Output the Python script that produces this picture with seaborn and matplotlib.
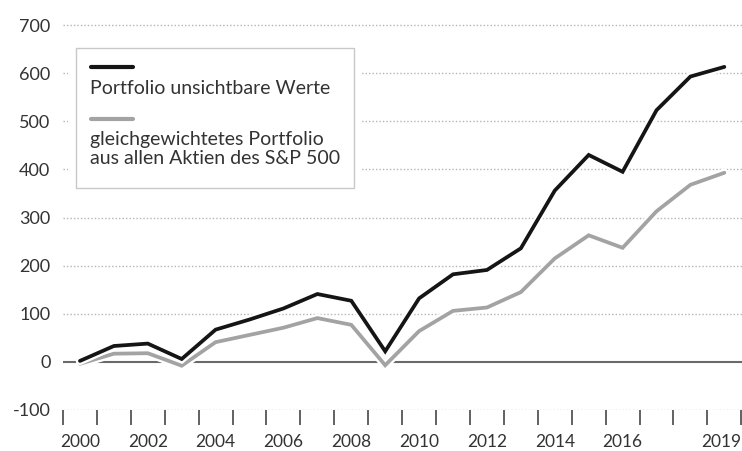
import numpy as np
import pandas as pd
import matplotlib
matplotlib.use("Agg")
import matplotlib.pyplot as plt
import matplotlib.patheffects as pe
import matplotlib.transforms as mtransforms
from matplotlib.patches import Rectangle
from matplotlib.lines import Line2D
import seaborn as sns

years = list(range(2000, 2020))
unsichtbar = [2, 33, 38, 6, 67, 88, 111, 141, 127, 22, 132, 182, 191, 236, 356, 430, 395, 523, 593, 613]
gleich = [-4, 17, 18, -8, 41, 56, 71, 91, 77, -7, 64, 106, 113, 145, 215, 263, 237, 313, 368, 393]
series_names = ["Portfolio unsichtbare Werte",
                "gleichgewichtetes Portfolio\naus allen Aktien des S&P 500"]
ytick_values = [-100, 0, 100, 200, 300, 400, 500, 600, 700]
xtick_years = [2000, 2002, 2004, 2006, 2008, 2010, 2012, 2014, 2016, 2019]

df = pd.DataFrame({
    "Jahr": years * 2,
    "Wert": unsichtbar + gleich,
    "Serie": [series_names[0]] * len(years) + [series_names[1]] * len(years),
})

sns.set_theme(style="white")
plt.rcParams["font.family"] = ["Lato", "DejaVu Sans"]

fig = plt.figure(figsize=(7.42, 4.51), dpi=100)
ax = fig.add_axes([63 / 742, 41 / 451, 1 - 63 / 742, 1 - 41 / 451])

color_map = {series_names[0]: "#151515", series_names[1]: "#a3a3a3"}
halo = [pe.Stroke(linewidth=6, foreground="white"), pe.Normal()]

# gridlines
for v in ytick_values:
    if v == 0:
        ax.axhline(v, color="#6a6a6a", lw=1.5, zorder=1)
    else:
        ax.axhline(v, color="#b5b5b5", lw=1.0, ls=(0, (1, 1.5)), zorder=1)

sns.lineplot(data=df, x="Jahr", y="Wert", hue="Serie", palette=color_map,
             hue_order=series_names[::-1], linewidth=2.7, legend=False, ax=ax,
             zorder=5)
for line in ax.get_lines()[-2:]:
    line.set_path_effects(halo)
    line.set_solid_joinstyle("miter")

ax.set_xlim(1999.5, 2019.52)
ax.set_ylim(-100, 752)
ax.set_xlabel("")
ax.set_ylabel("")
for s in ax.spines.values():
    s.set_visible(False)

ax.set_yticks(ytick_values)
ax.set_yticklabels([str(v) for v in ytick_values])
ax.tick_params(axis="y", length=0, pad=9, labelsize=13, labelcolor="#333333")

ax.set_xticks(xtick_years)
ax.set_xticklabels([str(v) for v in xtick_years])
ax.set_xticks([y - 0.5 for y in range(2000, 2021)], minor=True)
ax.tick_params(axis="x", which="major", bottom=True, length=0, pad=17, labelsize=12.5,
               labelcolor="#333333")
ax.tick_params(axis="x", which="minor", bottom=True, length=11, width=1.3,
               color="#555555", direction="out")
last = ax.get_xticklabels()[-1]
last.set_transform(last.get_transform() + mtransforms.ScaledTranslation(-3 / 100, 0, fig.dpi_scale_trans))

# legend box
fig.patches.append(Rectangle((68 / 742, 1 - 196 / 451), 294 / 742, 156 / 451,
                             transform=fig.transFigure, facecolor="white",
                             edgecolor="none", zorder=3))
fig.patches.append(Rectangle((76 / 742, 1 - 188 / 451), 278 / 742, 140 / 451,
                             transform=fig.transFigure, facecolor="white",
                             edgecolor="#c8c8c8", lw=1.0, zorder=3))
ax.set_zorder(1)
ax.patch.set_visible(False)
fig.lines.append(Line2D([91 / 742, 133 / 742], [1 - 67 / 451] * 2, transform=fig.transFigure,
                        color="#151515", lw=3, solid_capstyle="round", zorder=4))
fig.lines.append(Line2D([91 / 742, 133 / 742], [1 - 119 / 451] * 2, transform=fig.transFigure,
                        color="#a3a3a3", lw=3, solid_capstyle="round", zorder=4))
fig.text(90 / 742, 1 - 88 / 451, series_names[0], fontsize=14, color="#333333",
         va="center", ha="left", zorder=4)
fig.text(90 / 742, 1 - 149 / 451, series_names[1], fontsize=14, color="#333333",
         va="center", ha="left", linespacing=1.1, zorder=4)

fig.savefig("out.png", dpi=100)
